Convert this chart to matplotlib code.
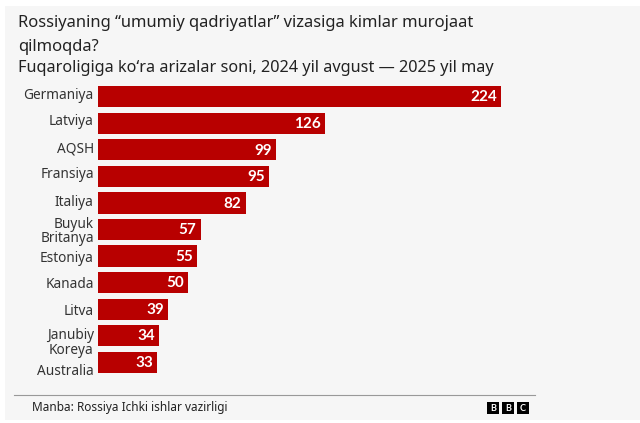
import matplotlib
matplotlib.use("Agg")
import matplotlib.pyplot as plt
import matplotlib.transforms as mtransforms
from matplotlib.patches import Rectangle

# data
countries = ['Germaniya', 'Latviya', 'AQSH', 'Fransiya', 'Italiya', 'Buyuk\nBritanya',
             'Estoniya', 'Kanada', 'Litva', 'Janubiy\nKoreya', 'Australia']
applications = [224, 126, 99, 95, 82, 57, 55, 50, 39, 34, 33]

title = 'Rossiyaning \u201cumumiy qadriyatlar\u201d vizasiga kimlar murojaat\nqilmoqda?'
subtitle = 'Fuqaroligiga ko\u2018ra arizalar soni, 2024 yil avgust \u2014 2025 yil may'
source = 'Manba: Rossiya Ichki ishlar vazirligi'

bar_red = '#b80000'
bg = '#f6f6f6'
txt = '#222222'

plt.rcParams['font.family'] = ['Noto Sans', 'DejaVu Sans']

fig = plt.figure(figsize=(6.4, 4.23), dpi=100)
fig.patch.set_facecolor('white')
# grey panel
fig.patches.append(Rectangle((5 / 640, 0.007), 1, 1 - 6 / 423 - 0.007,
                             transform=fig.transFigure, facecolor=bg,
                             edgecolor='none', zorder=-10))

ax = fig.add_axes([98 / 640, 1 - 375.5 / 423, 442 / 640, (375.5 - 83.5) / 423])
ax.set_facecolor('none')
y = range(len(countries))
ax.barh(y, applications, height=0.8, color=bar_red)
ax.set_xlim(0, 442 / 1.8)
ax.set_ylim(len(countries) - 0.5, -0.5)

for yi, v in zip(y, applications):
    ax.annotate(str(v), (v, yi), xytext=(-3, -0.5), textcoords='offset points',
                ha='right', va='center', color='white', fontsize=11,
                fontweight='bold', family=['Lato', 'DejaVu Sans'])

ax.set_yticks(list(y))
ax.set_yticklabels(countries, fontsize=9.8, color='#333333', linespacing=1.0)
ax.tick_params(axis='y', length=0, pad=3)
ax.set_xticks([])
for s in ax.spines.values():
    s.set_visible(False)

# the labels sit a little off the bars in the original
label_shift = [3, 4, 3, 4, 2, 0, 0, 0, 0, -5, -7]
for lab, dy in zip(ax.get_yticklabels(), label_shift):
    lab.set_transform(lab.get_transform() +
                      mtransforms.ScaledTranslation(0, dy / 100, fig.dpi_scale_trans))

fig.text(18 / 640, 1 - 15 / 423, title, fontsize=11.9, color=txt, va='top',
         linespacing=1.7)
fig.text(18 / 640, 1 - 68 / 423, subtitle, fontsize=11.7, color=txt, va='center')

# footer
fig.add_artist(plt.Line2D([14 / 640, 535 / 640], [1 - 395 / 423] * 2,
                          transform=fig.transFigure, color='#999999', lw=0.8))
fig.text(32 / 640, 1 - 407 / 423, source, fontsize=8.5, color=txt, va='center')
for i, ch in enumerate('BBC'):
    x0 = (487 + i * 15) / 640
    fig.patches.append(Rectangle((x0, 1 - 414 / 423), 12 / 640, 12 / 423,
                                 transform=fig.transFigure, facecolor='black',
                                 edgecolor='none'))
    fig.text(x0 + 6 / 640, 1 - 408 / 423, ch, fontsize=6.5, color='white',
             fontweight='bold', ha='center', va='center',
             family=['Lato', 'DejaVu Sans'])

fig.savefig('out.png', dpi=100, facecolor=fig.get_facecolor())
